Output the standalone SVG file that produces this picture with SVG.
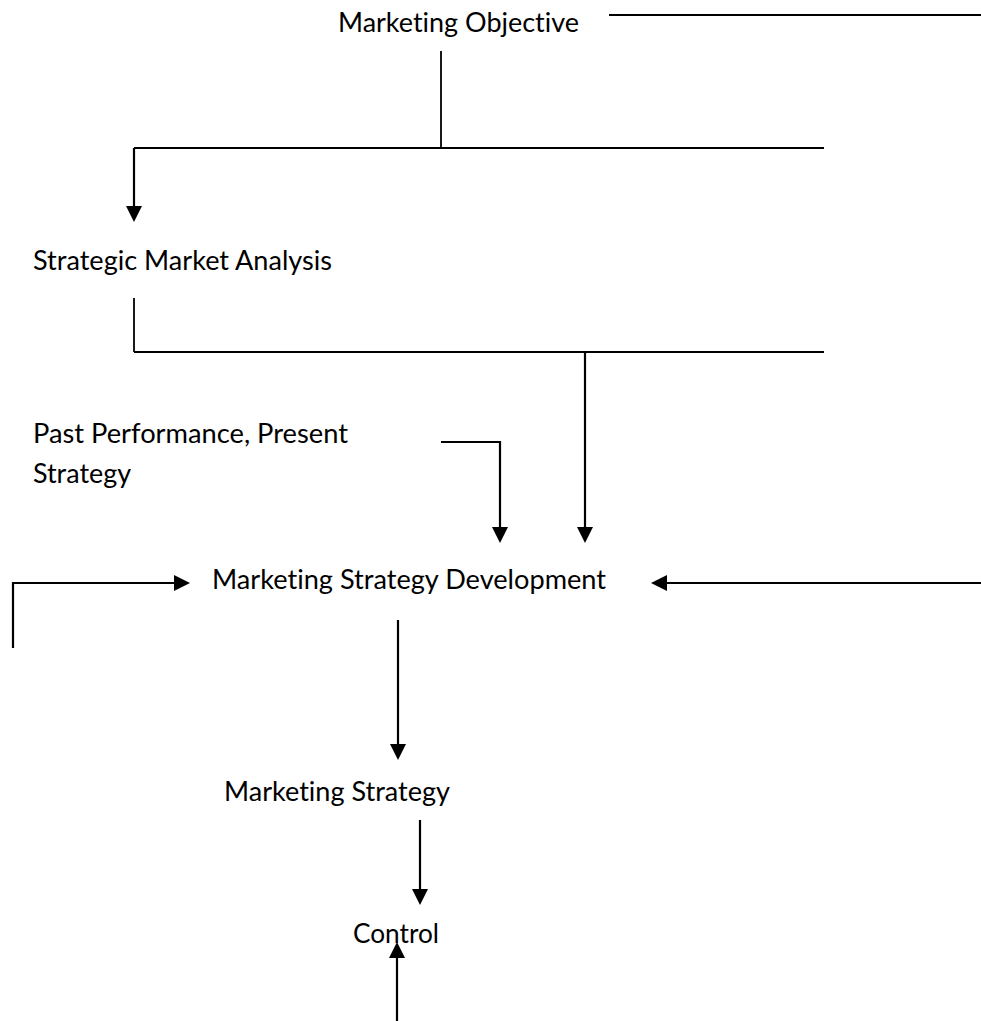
<svg xmlns="http://www.w3.org/2000/svg" width="981" height="1021" viewBox="0 0 981 1021">
<style>
  .lbl { font-family: "Lato", "Open Sans", "Liberation Sans", sans-serif; font-size: 27px; fill: #000; font-variant-ligatures: none; }
  .ln { fill: none; stroke: #000; stroke-width: 1.8; }
  .ar { fill: none; stroke: #000; stroke-width: 2.2; marker-end: url(#ah); }
</style>
<defs>
  <marker id="ah" markerUnits="userSpaceOnUse" markerWidth="16" markerHeight="16" viewBox="0 0 16 16" refX="5" refY="8" orient="auto">
    <path d="M0,0 L16,8 L0,16 Z" fill="#000"/>
  </marker>
</defs>
<rect width="981" height="1021" fill="#fff"/>
<g id="connectors">
  <line class="ln" x1="609" y1="15" x2="981" y2="15"/>
  <line class="ln" x1="441" y1="51" x2="441" y2="148"/>
  <line class="ln" x1="134" y1="148" x2="824" y2="148"/>
  <path class="ar" d="M134,148 V211"/>
  <line class="ln" x1="134" y1="298" x2="134" y2="352"/>
  <line class="ln" x1="134" y1="352" x2="824" y2="352"/>
  <path class="ar" d="M585,352 V532"/>
  <path class="ar" d="M441,442 H500 V532"/>
  <path class="ar" d="M13,648 V583 H179"/>
  <path class="ar" d="M981,583 H662"/>
  <path class="ar" d="M398,620 V749"/>
  <path class="ar" d="M420,820 V894"/>
  <path class="ar" d="M397,1021 V953"/>
</g>
<g id="marketing-objective"><text class="lbl" x="338" y="32" textLength="241" lengthAdjust="spacingAndGlyphs">Marketing Objective</text></g>
<g id="strategic-market-analysis"><text class="lbl" x="33" y="270" textLength="299" lengthAdjust="spacingAndGlyphs">Strategic Market Analysis</text></g>
<g id="past-performance"><text class="lbl" x="33" y="443" textLength="315" lengthAdjust="spacingAndGlyphs">Past Performance, Present</text><text class="lbl" x="33" y="483" textLength="98" lengthAdjust="spacingAndGlyphs">Strategy</text></g>
<g id="marketing-strategy-development"><text class="lbl" x="212" y="589" textLength="394" lengthAdjust="spacingAndGlyphs">Marketing Strategy Development</text></g>
<g id="marketing-strategy"><text class="lbl" x="224" y="801" textLength="226" lengthAdjust="spacingAndGlyphs">Marketing Strategy</text></g>
<g id="control"><text class="lbl" x="353" y="943" textLength="86" lengthAdjust="spacingAndGlyphs">Control</text></g>
</svg>
